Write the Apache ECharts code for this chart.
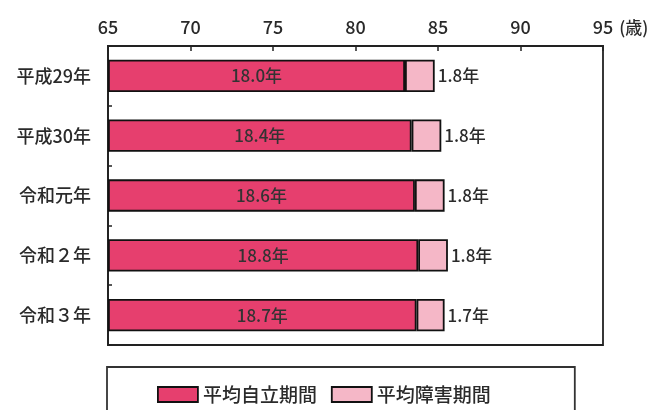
<!DOCTYPE html>
<html><head><meta charset="utf-8">
<script src="https://cdn.jsdelivr.net/npm/echarts@6/dist/echarts.min.js"></script>
<style>html,body{margin:0;padding:0;background:#fff}#c{width:655px;height:410px}</style>
</head><body><div id="c"></div>
<script>
const categories = ['平成29年', '平成30年', '令和元年', '令和２年', '令和３年'];
const baseAge = [65, 65, 65, 65, 65];
const independent = [18.0, 18.4, 18.6, 18.8, 18.7];
const disability = [1.8, 1.8, 1.8, 1.8, 1.7];
const xTicks = [65, 70, 75, 80, 85, 90, 95];

const JFONT = '"Noto Sans CJK JP", sans-serif';
const TXT = '#2a2a2a';
const chart = echarts.init(document.getElementById('c'));
chart.setOption({
  animation: false,
  backgroundColor: '#fff',
  grid: { left: 108, right: 52, top: 46, bottom: 65, outerBoundsMode: 'none', containLabel: false,
          show: true, borderColor: '#222', borderWidth: 1.8, backgroundColor: 'transparent' },
  xAxis: {
    type: 'value', position: 'top', min: xTicks[0], max: xTicks[xTicks.length - 1], interval: 5,
    axisLine: { show: true, lineStyle: { color: '#222', width: 1.8 } },
    axisTick: { show: true, inside: true, length: 5, lineStyle: { color: '#222', width: 1.5 } },
    splitLine: { show: false },
    axisLabel: { margin: 10, color: TXT, fontSize: 18, fontWeight: 500, fontFamily: JFONT },
    name: '(歳)', nameLocation: 'end', nameGap: 12,
    nameTextStyle: { color: TXT, fontSize: 17, fontWeight: 500, fontFamily: JFONT, verticalAlign: 'bottom', padding: [0, 0, 10, 0] }
  },
  yAxis: {
    type: 'category', inverse: true, data: categories,
    axisLine: { show: true, lineStyle: { color: '#222', width: 1.8 } },
    axisTick: { show: true, inside: true, length: 4, lineStyle: { color: '#222', width: 1.5 } },
    axisLabel: { margin: 17, color: TXT, fontSize: 18, fontWeight: 500, fontFamily: JFONT }
  },
  legend: {
    left: 107, top: 367, data: ['平均自立期間', '平均障害期間'], icon: 'rect',
    padding: [18, 84, 10, 50], borderColor: '#333', borderWidth: 1.8,
    itemWidth: 40, itemHeight: 15, itemGap: 14,
    itemStyle: { borderColor: '#111', borderWidth: 1.8 },
    textStyle: { color: TXT, fontSize: 19, fontWeight: 500, fontFamily: JFONT }
  },
  series: [
    { name: 'base', type: 'bar', stack: 's', data: baseAge, itemStyle: { color: 'transparent' }, barWidth: '54%', silent: true },
    { name: '平均自立期間', type: 'bar', stack: 's', data: independent, barWidth: '54%',
      itemStyle: { color: '#E63F6E', borderColor: '#111', borderWidth: 1.8 },
      label: { show: true, position: 'inside', formatter: p => p.value.toFixed(1) + '年', color: '#333', fontSize: 17, fontWeight: 500, fontFamily: JFONT } },
    { name: '平均障害期間', type: 'bar', stack: 's', data: disability, barWidth: '54%',
      itemStyle: { color: '#F5B7C7', borderColor: '#111', borderWidth: 1.8 },
      label: { show: true, position: 'right', distance: 3, formatter: p => p.value.toFixed(1) + '年', color: TXT, fontSize: 17, fontWeight: 500, fontFamily: JFONT } }
  ]
});
</script></body></html>
